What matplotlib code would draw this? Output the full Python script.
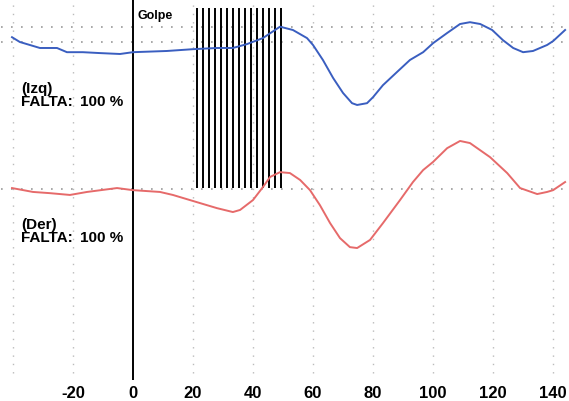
import matplotlib
matplotlib.use("Agg")
import matplotlib.pyplot as plt

plt.rcParams['font.family'] = ['Liberation Sans', 'DejaVu Sans']

# Time axis (samples relative to impact) and the two traces
izq_t = [-40.3, -37.7, -31, -25.3, -22, -16.7, -11, -4.3, 0, 11.3, 20, 28, 33.3, 38, 43.3,
         46, 49, 53.3, 58, 60, 63.3, 66.7, 70, 73, 74.7, 78, 80, 83.3, 88, 92.3, 96.7,
         100, 104.7, 109, 112.3, 115.7, 119.7, 123.3, 126.7, 130, 133.3, 138, 140, 144]
izq_v = [114.3, 112.7, 110.7, 110.7, 109.3, 109.3, 109, 108.7, 109.3, 109.7, 110.3, 110.7,
         110.7, 112, 114, 115.8, 117.8, 116.7, 114, 111.7, 106.7, 100.7, 95.7, 92.3, 91.7,
         92.3, 94.3, 98.3, 102.7, 106.7, 109.3, 112.3, 115.7, 118.7, 119.3, 118.7, 116.7,
         113.3, 110.7, 109.3, 109.7, 111.7, 113, 116.7]

der_t = [-40.3, -33.3, -27.7, -21, -15.3, -5.3, 0, 9, 13.3, 22.3, 28, 33.3, 35.7, 40, 43.3,
         45.7, 49, 52.3, 55.7, 59, 62.3, 65.7, 69, 72.3, 74.7, 79, 83.3, 89, 93.3, 96.7,
         100, 104.7, 109, 112.3, 119, 124.7, 129, 134.7, 138, 140, 144]
der_v = [64, 62.7, 62.3, 61.7, 62.7, 64, 63.3, 62.7, 61.7, 59, 57.3, 56, 56.7, 60, 64.3,
         67.7, 69.3, 69, 66.7, 63.3, 58.3, 52.3, 47.3, 44.3, 44, 46.7, 52.3, 60, 66, 70,
         72.7, 77.3, 79.7, 79, 74.3, 69, 64, 62, 62.7, 63.3, 66]

# Stroke markers and reference levels
golpe_t = 0
strokes = [21.5, 23.5, 25.5, 27.5, 29.5, 31.5, 33.5, 35.5, 37.5, 39.5, 41.5, 43.5, 45.5,
           47.5, 49.5]
ref_levels = [117.7, 112.7, 63.7]
grid_t = [-40, -20, 20, 40, 60, 80, 100, 120, 140]
tick_t = [-20, 0, 20, 40, 60, 80, 100, 120, 140]
tick_labels = ['-20', '0', '20', '40', '60', '80', '100', '120', '140']

fig = plt.figure(figsize=(5.69, 4.01), dpi=100)
ax = fig.add_axes([0, 21 / 401, 1, 380 / 401])
ax.set_xlim(-44.3, 145.3)
ax.set_ylim(0, 126.7)

ax.vlines(grid_t, 2.3, 126.7, colors='#bbbbbb', linestyles=(0, (1, 5)), linewidth=1)
ax.hlines(ref_levels, -44, 145, colors='#999999', linestyles=(0, (1, 5)), linewidth=1.2)

ax.vlines(strokes, 64, 124, colors='black', linewidth=1.4)
ax.vlines([golpe_t], 0, 126.7, colors='black', linewidth=1.4)

ax.plot(izq_t, izq_v, color='#3a5ec0', linewidth=1.4)
ax.plot(der_t, der_v, color='#e66a6a', linewidth=1.4)

lbl = dict(fontsize=11, fontweight='bold', va='center', ha='left')
ax.text(1.5, 121.3, 'Golpe', fontsize=9, fontweight='bold', va='center', ha='left')
ax.text(-37.3, 97.0, '(Izq)', **lbl)
ax.text(-37.3, 92.7, 'FALTA:', **lbl)
ax.text(-17.7, 92.7, '100 %', **lbl)
ax.text(-37.3, 51.7, '(Der)', **lbl)
ax.text(-37.3, 47.3, 'FALTA:', **lbl)
ax.text(-17.7, 47.3, '100 %', **lbl)

ax.set_xticks(tick_t)
ax.set_xticklabels(tick_labels, fontsize=12, fontweight='bold')
ax.set_yticks([])
ax.tick_params(axis='x', length=0, pad=4)
for s in ax.spines.values():
    s.set_visible(False)

fig.savefig('out.png', dpi=100)
